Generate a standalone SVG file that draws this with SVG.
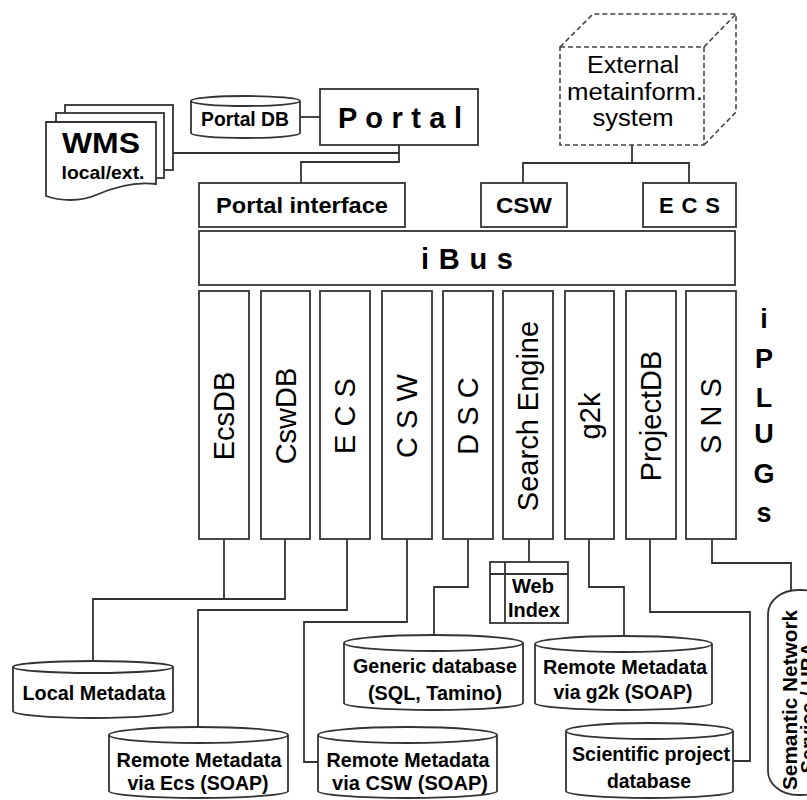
<svg xmlns="http://www.w3.org/2000/svg" width="807" height="800" viewBox="0 0 807 800">
<style>
.s{fill:#fff;stroke:#333;stroke-width:1.8}
.d{fill:#fff;stroke:#444;stroke-width:1.6;stroke-dasharray:5,3}
.ln{fill:none;stroke:#333;stroke-width:1.8}
text{font-family:"Liberation Sans",Arial,sans-serif;fill:#000;text-anchor:middle}
.b{font-weight:bold}
.col{font-size:29px}
.cyl{font-size:19.5px;font-weight:bold}
</style>
<rect width="807" height="800" fill="#fff"/>
<g id="connectors">
<path class="ln" d="M300,117 H320"/>
<path class="ln" d="M173,153 H399 M399,145 V162 H301 V183"/>
<path class="ln" d="M632,145 V163 M523,183 V163 H689 V183"/>
<path class="ln" d="M224,539 V599 M285,539 V599 H93 V661"/>
<path class="ln" d="M347,539 V610 H198 V727"/>
<path class="ln" d="M407,539 V622 H304 V762 H318"/>
<path class="ln" d="M468,539 V587 H434 V635"/>
<path class="ln" d="M529,539 V562"/>
<path class="ln" d="M589,539 V587 H624 V636"/>
<path class="ln" d="M650,539 V612 H750 V761 H733"/>
<path class="ln" d="M712,539 V563 H791 V590"/>
</g>
<g id="wms">
<rect class="s" x="65" y="105" width="108" height="65"/>
<rect class="s" x="56" y="113" width="108" height="65"/>
<path class="s" d="M46,122 H156 V184 C132,181 112,188 96,195 C80,202 60,201 46,196 Z"/>
<text class="b" x="101" y="153" font-size="29" textLength="78" lengthAdjust="spacingAndGlyphs">WMS</text>
<text class="b" x="103" y="179" font-size="19" textLength="83" lengthAdjust="spacingAndGlyphs">local/ext.</text>
</g>
<g id="portaldb">
<path class="s" d="M191,101 V133 A54.5,5 0 0 0 300,133 V101"/>
<ellipse class="s" cx="245.5" cy="101" rx="54.5" ry="5"/>
<text class="b" x="245" y="126" font-size="20" textLength="88" lengthAdjust="spacingAndGlyphs">Portal DB</text>
</g>
<g id="portal">
<rect class="s" x="320" y="89" width="158" height="56"/>
<text class="b" x="400" y="128" font-size="29" textLength="124" lengthAdjust="spacing">P o r t a l</text>
</g>
<g id="external">
<path class="d" d="M560,47 L593,14 H736 V112 L704,145 M704,47 L736,14"/>
<rect class="d" x="560" y="47" width="144" height="98"/>
<text x="633" y="73" font-size="23" textLength="92" lengthAdjust="spacingAndGlyphs">External</text>
<text x="635" y="100" font-size="23" textLength="136" lengthAdjust="spacingAndGlyphs">metainform.</text>
<text x="633" y="126" font-size="23" textLength="81" lengthAdjust="spacingAndGlyphs">system</text>
</g>
<g id="portalinterface">
<rect class="s" x="199" y="183" width="206" height="44"/>
<text class="b" x="302" y="213" font-size="22" textLength="172" lengthAdjust="spacingAndGlyphs">Portal interface</text>
</g>
<g id="csw-top">
<rect class="s" x="481" y="183" width="86" height="44"/>
<text class="b" x="524" y="213" font-size="22" textLength="56" lengthAdjust="spacingAndGlyphs">CSW</text>
</g>
<g id="ecs-top">
<rect class="s" x="643" y="183" width="93" height="44"/>
<text class="b" x="689.5" y="213" font-size="22" textLength="61" lengthAdjust="spacing">E C S</text>
</g>
<g id="ibus">
<rect class="s" x="199" y="231" width="536" height="54"/>
<text class="b" x="467" y="269" font-size="29" textLength="92" lengthAdjust="spacing">i B u s</text>
</g>
<g id="plug-ecsdb"><rect class="s" x="199" y="291" width="50" height="248"/><text class="col" transform="translate(224,416) rotate(-90)" y="10">EcsDB</text></g>
<g id="plug-cswdb"><rect class="s" x="261" y="291" width="49" height="248"/><text class="col" transform="translate(285.5,416) rotate(-90)" y="10">CswDB</text></g>
<g id="plug-ecs"><rect class="s" x="320" y="291" width="50" height="248"/><text class="col" transform="translate(345,416) rotate(-90)" y="10">E C S</text></g>
<g id="plug-csw"><rect class="s" x="382" y="291" width="50" height="248"/><text class="col" transform="translate(407,416) rotate(-90)" y="10">C S W</text></g>
<g id="plug-dsc"><rect class="s" x="443" y="291" width="50" height="248"/><text class="col" transform="translate(468,416) rotate(-90)" y="10">D S C</text></g>
<g id="plug-search"><rect class="s" x="503" y="291" width="50" height="248"/><text class="col" transform="translate(528,416) rotate(-90)" y="10">Search Engine</text></g>
<g id="plug-g2k"><rect class="s" x="565" y="291" width="49" height="248"/><text class="col" transform="translate(589.5,416) rotate(-90)" y="10">g2k</text></g>
<g id="plug-projectdb"><rect class="s" x="626" y="291" width="50" height="248"/><text class="col" transform="translate(651,416) rotate(-90)" y="10">ProjectDB</text></g>
<g id="plug-sns"><rect class="s" x="686" y="291" width="50" height="248"/><text class="col" transform="translate(711,416) rotate(-90)" y="10">S N S</text></g>
<g id="iplugs-label">
<text class="b" x="764" y="328" font-size="27">i</text>
<text class="b" x="764" y="368" font-size="27">P</text>
<text class="b" x="764" y="407" font-size="27">L</text>
<text class="b" x="764" y="443" font-size="27">U</text>
<text class="b" x="764" y="483" font-size="27">G</text>
<text class="b" x="764" y="522" font-size="27">s</text>
</g>
<g id="localmeta">
<path class="s" d="M13,667 V711 A80,7 0 0 0 173,711 V667"/>
<ellipse class="s" cx="93" cy="667" rx="80" ry="6"/>
<text class="cyl" x="94" y="700" textLength="143" lengthAdjust="spacingAndGlyphs">Local Metadata</text>
</g>
<g id="remote-ecs">
<path class="s" d="M109,735 V791 A89.5,7 0 0 0 288,791 V735"/>
<ellipse class="s" cx="198.5" cy="735" rx="89.5" ry="8"/>
<text class="cyl" x="199" y="767" textLength="165" lengthAdjust="spacingAndGlyphs">Remote Metadata</text>
<text class="cyl" x="198" y="790" textLength="141" lengthAdjust="spacingAndGlyphs">via Ecs (SOAP)</text>
</g>
<g id="remote-csw">
<path class="s" d="M318,735 V791 A89.5,7 0 0 0 497,791 V735"/>
<ellipse class="s" cx="407.5" cy="735" rx="89.5" ry="8"/>
<text class="cyl" x="408" y="767" textLength="163" lengthAdjust="spacingAndGlyphs">Remote Metadata</text>
<text class="cyl" x="410" y="790" textLength="156" lengthAdjust="spacingAndGlyphs">via CSW (SOAP)</text>
</g>
<g id="generic-db">
<path class="s" d="M344,643 V703 A89.5,7 0 0 0 523,703 V643"/>
<ellipse class="s" cx="433.5" cy="643" rx="89.5" ry="8"/>
<text class="cyl" x="435" y="673" textLength="164" lengthAdjust="spacingAndGlyphs">Generic database</text>
<text class="cyl" x="435" y="700" textLength="134" lengthAdjust="spacingAndGlyphs">(SQL, Tamino)</text>
</g>
<g id="webindex">
<rect class="s" x="490" y="562" width="78" height="61"/>
<path class="ln" d="M490,574 H568 M505,562 V623"/>
<text class="cyl" x="533" y="593" textLength="42" lengthAdjust="spacingAndGlyphs">Web</text>
<text class="cyl" x="534" y="617" textLength="52" lengthAdjust="spacingAndGlyphs">Index</text>
</g>
<g id="remote-g2k">
<path class="s" d="M535,644 V703 A88.5,7 0 0 0 712,703 V644"/>
<ellipse class="s" cx="623.5" cy="644" rx="88.5" ry="8"/>
<text class="cyl" x="625" y="674" textLength="164" lengthAdjust="spacingAndGlyphs">Remote Metadata</text>
<text class="cyl" x="623" y="699" textLength="139" lengthAdjust="spacingAndGlyphs">via g2k (SOAP)</text>
</g>
<g id="scientific-db">
<path class="s" d="M566,731 V791 A83.5,7 0 0 0 733,791 V731"/>
<ellipse class="s" cx="649.5" cy="731" rx="83.5" ry="8"/>
<text class="cyl" x="651" y="761" textLength="158" lengthAdjust="spacingAndGlyphs">Scientific project</text>
<text class="cyl" x="649" y="788" textLength="84" lengthAdjust="spacingAndGlyphs">database</text>
</g>
<g id="sns-service">
<rect class="s" x="768" y="590" width="64" height="205" rx="30" ry="24"/>
<text class="b" font-size="20" transform="translate(789,700) rotate(-90)" y="8" textLength="180" lengthAdjust="spacingAndGlyphs">Semantic Network</text>
<text class="b" font-size="20" transform="translate(807,708) rotate(-90)" y="8">Service / UBA</text>
</g>
</svg>
